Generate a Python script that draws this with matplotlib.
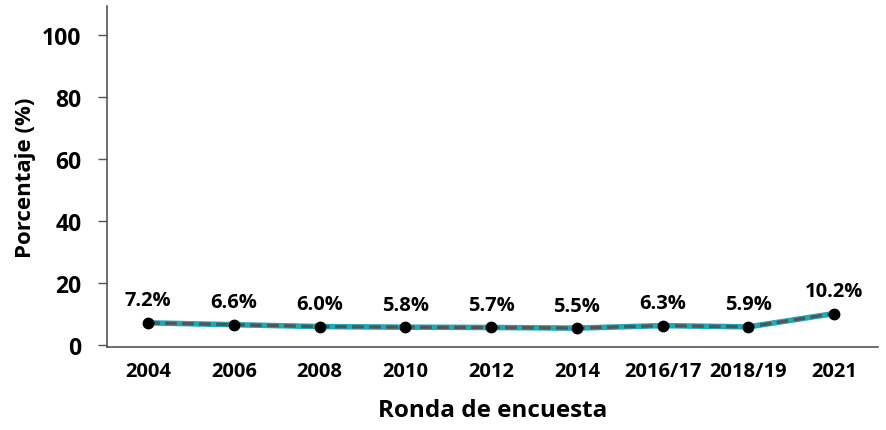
import matplotlib.pyplot as plt
import numpy as np

plt.rcParams['font.family'] = ['Open Sans', 'DejaVu Sans']

rondas = ['2004', '2006', '2008', '2010', '2012', '2014', '2016/17', '2018/19', '2021']
porcentaje = [7.2, 6.6, 6.0, 5.8, 5.7, 5.5, 6.3, 5.9, 10.2]
etiquetas = ['7.2%', '6.6%', '6.0%', '5.8%', '5.7%', '5.5%', '6.3%', '5.9%', '10.2%']
yticks = [0, 20, 40, 60, 80, 100]

fw = 'bold'

fig = plt.figure(figsize=(8.86, 4.31), dpi=100)
ax = fig.add_axes([107/886, 1 - 348/431, (878 - 107)/886, (348 - 7)/431])

x = np.arange(len(rondas))
# thick teal line with a gray dashed line on top
ax.plot(x, porcentaje, color='#1aacb8', lw=4, solid_capstyle='butt', zorder=2)
ax.plot(x, porcentaje, color='#555555', lw=2.4, ls=(0, (3.5, 1.6)), zorder=3)
ax.plot(x, porcentaje, 'o', color='black', ms=7.5, zorder=4)

for xi, yi, t in zip(x, porcentaje, etiquetas):
    ax.annotate(t, (xi, yi), xytext=(0, 9), textcoords='offset points',
                ha='center', va='bottom', fontsize=14.5, fontweight=fw)

ax.set_xlim(-0.48, 8.51)
ax.set_ylim(-0.6, 109.5)
ax.set_xticks(x)
ax.set_xticklabels(rondas, fontsize=14.5, fontweight=fw)
ax.set_yticks(yticks)
ax.set_yticklabels([str(v) for v in yticks], fontsize=16.5, fontweight=fw)
ax.tick_params(axis='x', length=0, pad=10)
ax.tick_params(axis='y', length=6.5, width=1, color='#555555', pad=12)

for s in ['top', 'right']:
    ax.spines[s].set_visible(False)
for s in ['left', 'bottom']:
    ax.spines[s].set_color('#555555')
    ax.spines[s].set_linewidth(1.2)

ax.set_xlabel('Ronda de encuesta', fontsize=17.5, fontweight=fw, labelpad=12)
ax.set_ylabel('Porcentaje (%)', fontsize=16, fontweight=fw, labelpad=4)

fig.savefig('out.png', dpi=100)
